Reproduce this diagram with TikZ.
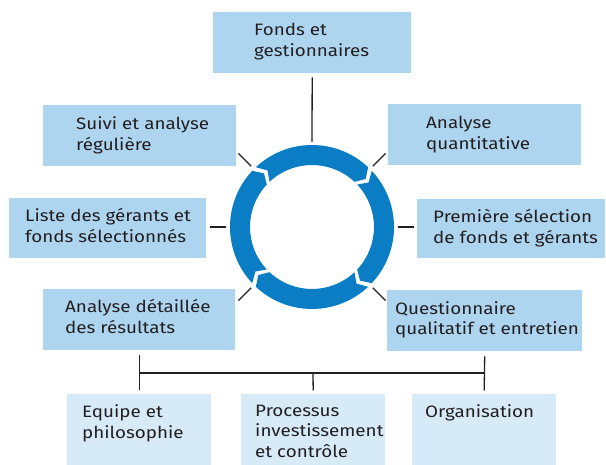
\documentclass[tikz,border=0pt]{standalone}
\usepackage{fontspec}
\setmainfont{Fira Sans}[FakeStretch=1.14]
\definecolor{boxA}{HTML}{ADD5F0}
\definecolor{boxB}{HTML}{D6EAF8}
\definecolor{ringc}{HTML}{0A7DC4}
\definecolor{ink}{HTML}{231F20}
\begin{document}
\begin{tikzpicture}[x=1pt,y=1pt,
  boxa/.style={fill=boxA, draw=none, inner sep=0, anchor=north west},
  boxb/.style={fill=boxB, draw=none, inner sep=0, anchor=north west},
  lbl/.style={anchor=base west, align=left, inner sep=0, text=ink,
    font=\fontsize{16.5}{20.5}\selectfont},
  conn/.style={draw=ink, line width=1.3pt},
  ringseg/.style={fill=ringc, draw=none}]
\useasboundingbox (0,0) rectangle (606,-465);

% upper boxes
\node[boxa, minimum width=198pt, minimum height=61pt] (fonds) at (213,-12) {};
\node[boxa, minimum width=193pt, minimum height=61pt] (suivi) at (43,-105) {};
\node[boxa, minimum width=193pt, minimum height=61pt] (quant) at (388,-104) {};
\node[boxa, minimum width=197pt, minimum height=60pt] (liste) at (9,-198) {};
\node[boxa, minimum width=188pt, minimum height=59pt] (prem) at (417,-199) {};
\node[boxa, minimum width=192pt, minimum height=61pt] (detail) at (43,-289) {};
\node[boxa, minimum width=195pt, minimum height=61pt] (quest) at (387,-290) {};
% lower boxes
\node[boxb, minimum width=144pt, minimum height=71pt] (equipe) at (67,-394) {};
\node[boxb, minimum width=144pt, minimum height=71pt] (proc) at (241,-394) {};
\node[boxb, minimum width=144pt, minimum height=71pt] (org) at (412,-394) {};

% texts (anchored at the baseline of the last line)
\node[lbl] (fondsT) at (254,-56.5) {Fonds et\\gestionnaires};
\node[lbl] (suiviT) at (76,-150.5) {Suivi et analyse\\régulière};
\node[lbl] (quantT) at (426,-149.5) {Analyse\\quantitative};
\node[lbl] (listeT) at (25,-242.5) {Liste des gérants et\\fonds sélectionnés};
\node[lbl] (premT) at (433,-243.5) {Première sélection\\de fonds et gérants};
\node[lbl] (detailT) at (65,-333.5) {Analyse détaillée\\des résultats};
\node[lbl] (questT) at (395,-334.5) {Questionnaire\\qualitatif et entretien};
\node[lbl] (equipeT) at (82,-438.5) {Equipe et\\philosophie};
\node[lbl] (procT) at (255,-457.5) {Processus\\investissement\\et contrôle};
\node[lbl] (orgT) at (425,-418) {Organisation};

% ring
\begin{scope}[shift={(312,-227)}]
  \def\Ro{82pt}\def\Ri{62pt}\def\Rm{72pt}
  \def\g{1.8}\def\d{5}
  \foreach \s in {135,45,-45,-135}{
    \pgfmathsetmacro{\e}{\s-90}
    \fill[ringseg] (\s-\g:\Ro) arc[start angle=\s-\g, end angle=\e+\g, radius=\Ro]
      -- (\e+\g-\d:\Rm) -- (\e+\g:\Ri)
      arc[start angle=\e+\g, end angle=\s-\g, radius=\Ri]
      -- (\s-\g-\d:\Rm) -- cycle;
  }
  \coordinate (ringtop) at (90:85pt);
  \coordinate (l0a) at (180:86pt);  \coordinate (l0b) at (180:102pt);
  \coordinate (r0a) at (0:86pt);    \coordinate (r0b) at (0:102pt);
  \coordinate (ula) at (135:86pt);  \coordinate (ulb) at (135:104pt);
  \coordinate (ura) at (45:86pt);   \coordinate (urb) at (45:104pt);
  \coordinate (lla) at (-135:86pt); \coordinate (llb) at (-135:104pt);
  \coordinate (lra) at (-45:86pt);  \coordinate (lrb) at (-45:104pt);
\end{scope}

% connectors
\draw[conn] ([yshift=-4pt]fonds.south) -- (ringtop);
\draw[conn] (l0a) -- (l0b);
\draw[conn] (r0a) -- (r0b);
\draw[conn] (ula) -- (ulb);
\draw[conn] (ura) -- (urb);
\draw[conn] (lla) -- (llb);
\draw[conn] (lra) -- (lrb);

% bus
\coordinate (busL) at (139,-373);
\coordinate (busR) at (484.5,-373);
\coordinate (busM) at (313,-373);
\draw[conn] ([yshift=-5pt]detail.south) -- ([yshift=3.5pt]equipe.north);
\draw[conn] ([yshift=-5pt]quest.south) -- ([yshift=3.5pt]org.north);
\draw[conn] (busL) -- (busR);
\draw[conn] (busM) -- ([yshift=3.5pt]proc.north);
\end{tikzpicture}
\end{document}
